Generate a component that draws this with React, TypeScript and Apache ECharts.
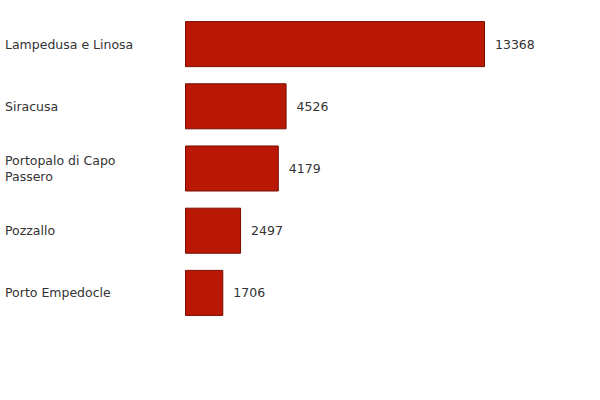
import React, { useEffect, useRef } from 'react';
import * as echarts from 'echarts';

const ports = [
  'Lampedusa e Linosa',
  'Siracusa',
  'Portopalo di Capo Passero',
  'Pozzallo',
  'Porto Empedocle',
];
const arrivals = [13368, 4526, 4179, 2497, 1706];

const App: React.FC = () => {
  const chartRef = useRef<HTMLDivElement>(null);

  useEffect(() => {
    if (!chartRef.current) return;
    const chart = echarts.init(chartRef.current, null, { renderer: 'svg' });

    const option: echarts.EChartsOption = {
      animation: false,
      textStyle: { fontFamily: 'DejaVu Sans' },
      grid: { left: 185, top: 13, width: 300, height: 311, containLabel: false },
      xAxis: {
        type: 'value',
        show: false,
        min: 0,
        max: 'dataMax',
        splitLine: { show: false },
      },
      yAxis: {
        type: 'category',
        data: ports,
        inverse: true,
        axisLine: { show: false },
        axisTick: { show: false },
        axisLabel: {
          align: 'left',
          margin: 180,
          width: 150,
          overflow: 'break',
          lineHeight: 16,
          color: '#333',
          fontSize: 12.5,
          fontFamily: 'DejaVu Sans',
        },
      },
      series: [
        {
          type: 'bar',
          data: arrivals,
          barCategoryGap: '26%',
          itemStyle: {
            color: '#b91805',
            borderColor: '#7a0c00',
            borderWidth: 1,
          },
          label: {
            show: true,
            position: 'right',
            distance: 10,
            color: '#333',
            fontSize: 12.5,
            fontFamily: 'DejaVu Sans',
          },
        },
      ],
    };

    chart.setOption(option);
    return () => chart.dispose();
  }, []);

  return (
    <div
      ref={chartRef}
      style={{ position: 'absolute', left: 0, top: 0, width: 600, height: 400 }}
    />
  );
};

export default App;
